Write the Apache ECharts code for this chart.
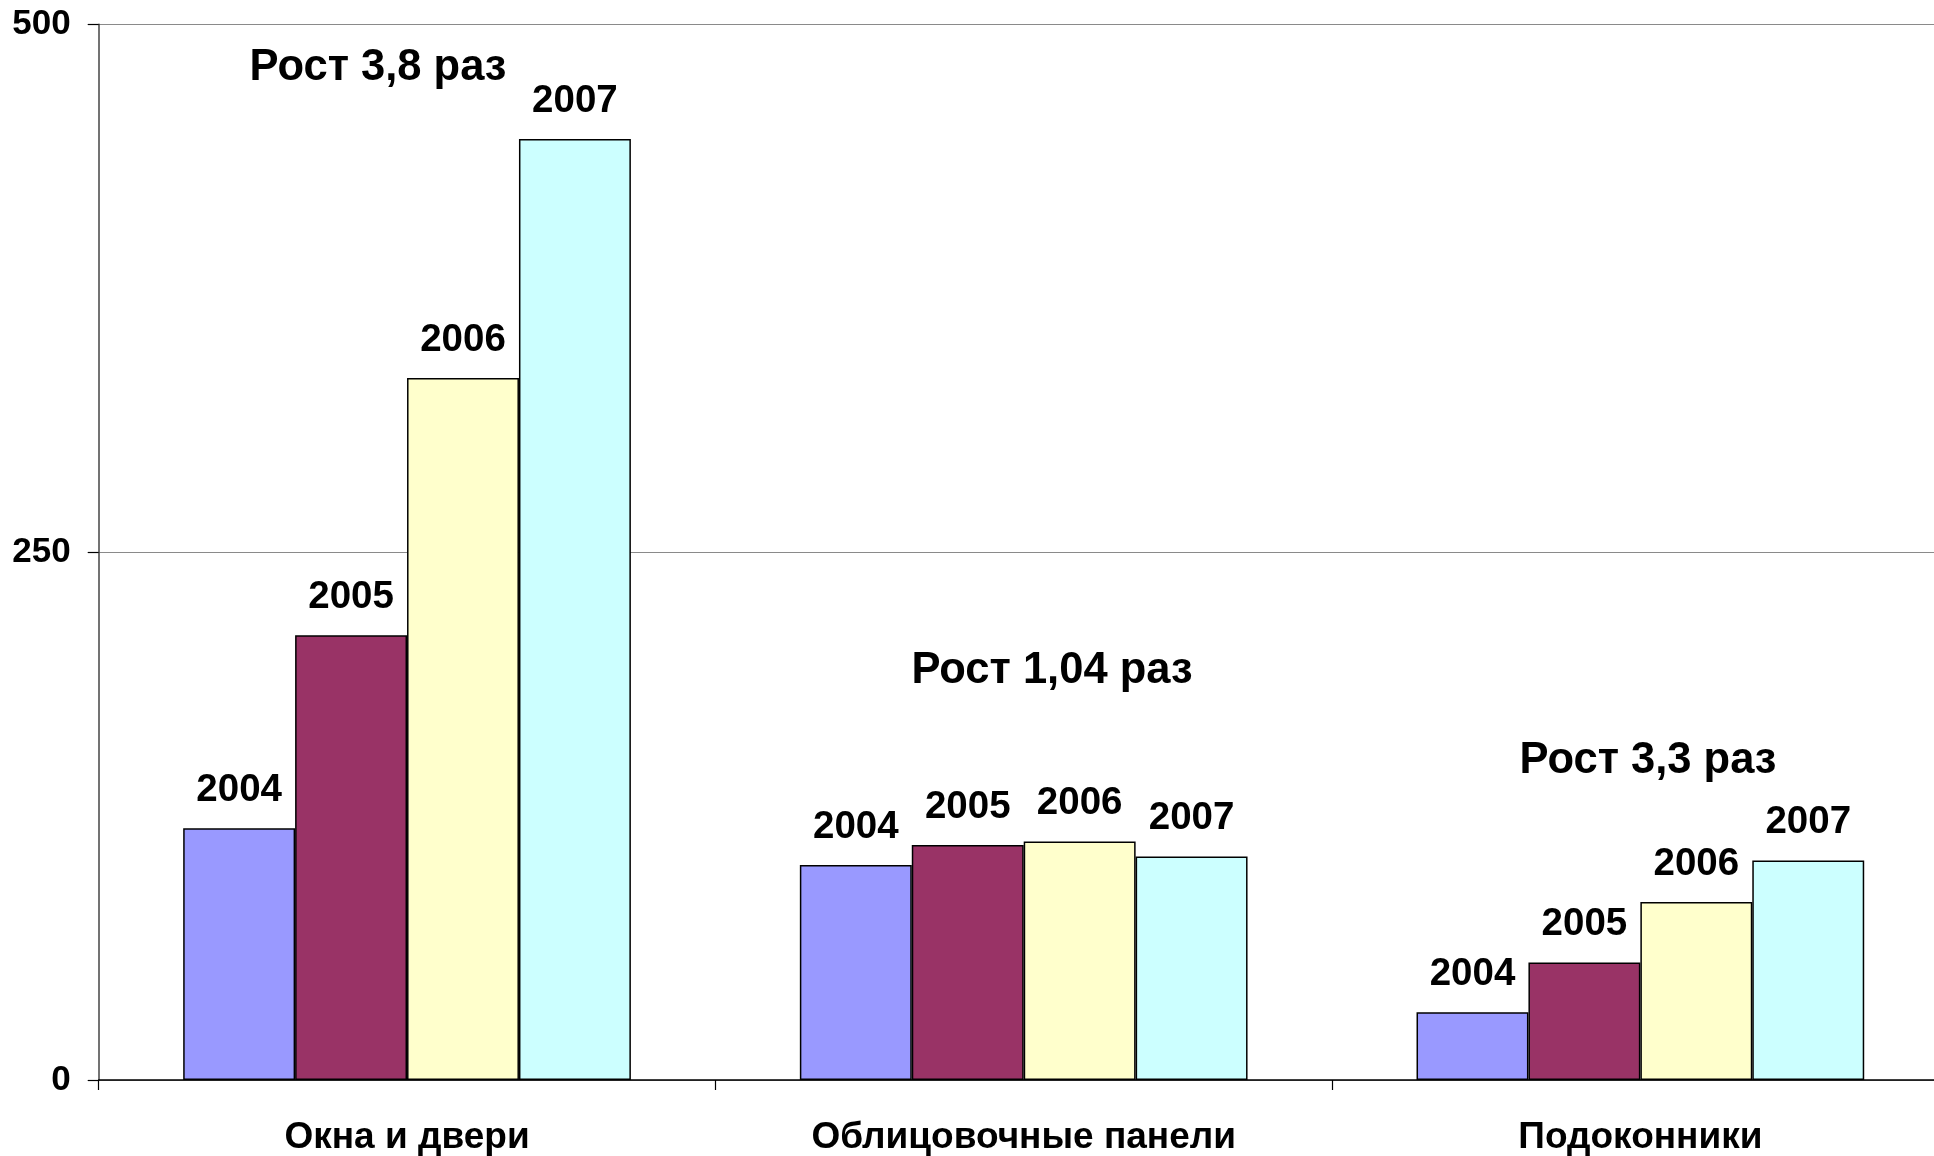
<!DOCTYPE html>
<html><head><meta charset="utf-8">
<script src="https://cdn.jsdelivr.net/npm/echarts@6/dist/echarts.min.js"></script>
<style>html,body{margin:0;padding:0;background:#fff}#c{width:1934px;height:1156px}</style>
</head><body><div id="c"></div>
<script>
const categories = ['Окна и двери', 'Облицовочные панели', 'Подоконники'];
const years = ['2004', '2005', '2006', '2007'];
const v2004 = [119.2, 101.8, 32.1];
const v2005 = [210.7, 111.3, 55.7];
const v2006 = [332.5, 112.9, 84.3];
const v2007 = [445.7, 105.8, 104.0];
const yTicks = [0, 250, 500];
const growthNotes = ['Рост 3,8 раз', 'Рост 1,04 раз', 'Рост 3,3 раз'];

const FONT = '"Liberation Sans", Arial, sans-serif';
const colors = ['#9999FF', '#993366', '#FFFFCC', '#CCFFFF'];
const values = [v2004, v2005, v2006, v2007];
const notePos = [[378, 67.5], [1052, 670.5], [1648, 760.5]];

const chart = echarts.init(document.getElementById('c'), null, {renderer: 'canvas'});
chart.setOption({
  backgroundColor: '#fff',
  animation: false,
  grid: {left: 98.7, top: 24.3, width: 1850, bottom: 76, outerBoundsMode: 'none', containLabel: false},
  xAxis: {
    type: 'category',
    data: categories,
    boundaryGap: true,
    axisLine: {show: true, lineStyle: {color: '#000', width: 1.5}},
    axisTick: {show: true, alignWithLabel: false, length: 10, lineStyle: {color: '#000', width: 1.2}},
    axisLabel: {color: '#000', fontFamily: FONT, fontWeight: 'bold', fontSize: 37, margin: 39, interval: 0},
    splitLine: {show: false}
  },
  yAxis: {
    type: 'value',
    min: yTicks[0],
    max: yTicks[yTicks.length - 1],
    interval: yTicks[1] - yTicks[0],
    axisLine: {show: true, lineStyle: {color: '#444', width: 1.5}},
    axisTick: {show: true, inside: false, length: 11, lineStyle: {color: '#000', width: 1.2}},
    axisLabel: {color: '#000', fontFamily: FONT, fontWeight: 'bold', fontSize: 35, margin: 28},
    splitLine: {show: true, lineStyle: {color: '#8a8a8a', width: 1.2}}
  },
  series: years.map((y, i) => ({
    name: y,
    type: 'bar',
    data: values[i],
    barGap: '0%',
    barCategoryGap: '27.4%',
    itemStyle: {color: colors[i], borderColor: '#000', borderWidth: 1.5},
    label: {
      show: true, position: 'top', distance: 18.5, formatter: '{a}',
      color: '#000', fontFamily: FONT, fontWeight: 'bold', fontSize: 38.5
    }
  })),
  graphic: growthNotes.map((t, i) => ({
    type: 'text',
    x: notePos[i][0],
    y: notePos[i][1],
    style: {
      text: t, fill: '#000', fontFamily: FONT, fontWeight: 'bold', fontSize: 43.5,
      align: 'center', verticalAlign: 'middle'
    }
  }))
});
</script>
</body></html>
